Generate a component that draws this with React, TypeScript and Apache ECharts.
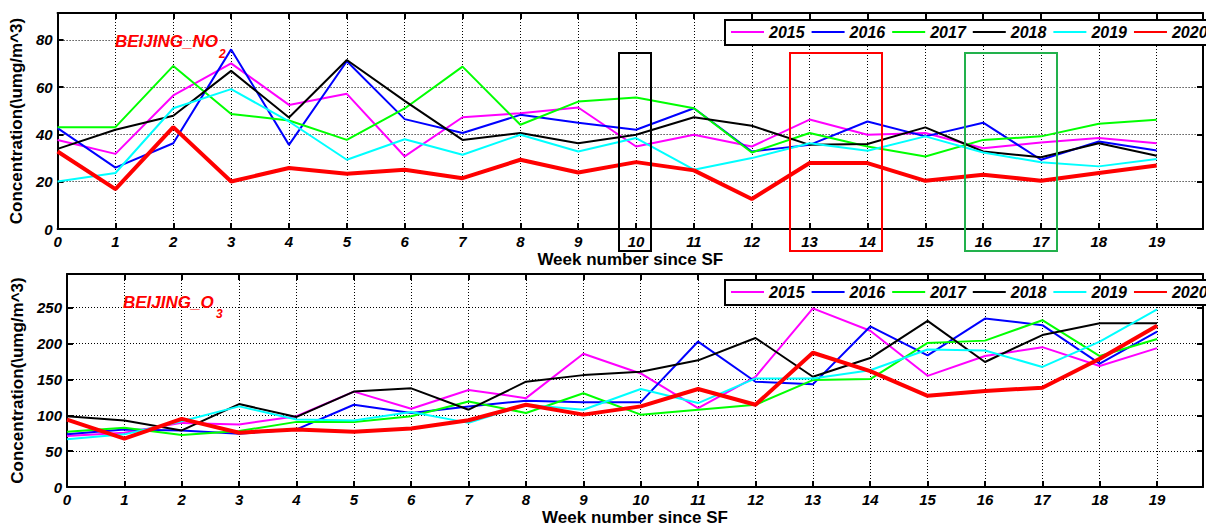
import React, { useEffect, useRef } from "react";
import * as echarts from "echarts";

const weeks = [0, 1, 2, 3, 4, 5, 6, 7, 8, 9, 10, 11, 12, 13, 14, 15, 16, 17, 18, 19];
const years = ["2015", "2016", "2017", "2018", "2019", "2020"];
const colors = ["#ff00ff", "#0000ff", "#00ff00", "#000000", "#00ffff", "#ff0000"];

const no2_2015 = [37.7, 31.8, 56.5, 70.1, 52.5, 57.2, 30.7, 47.3, 49.0, 51.4, 34.9, 39.9, 34.9, 46.3, 39.9, 40.6, 34.2, 36.6, 38.5, 36.3];
const no2_2016 = [42.7, 26.0, 36.3, 76.0, 35.6, 71.0, 46.5, 40.6, 48.3, 45.0, 42.0, 51.1, 32.8, 35.6, 45.5, 39.2, 45.0, 29.3, 37.0, 33.2];
const no2_2017 = [43.1, 43.1, 69.0, 48.7, 45.9, 37.7, 51.0, 68.7, 44.1, 53.9, 55.6, 51.1, 32.4, 40.6, 34.9, 30.7, 37.7, 39.2, 44.5, 46.2];
const no2_2018 = [33.9, 42.0, 47.9, 66.9, 47.2, 71.5, 54.2, 37.7, 40.6, 36.3, 39.9, 47.3, 43.7, 35.6, 36.0, 43.0, 32.8, 30.4, 36.3, 31.0];
const no2_2019 = [20.1, 23.7, 51.1, 59.2, 45.5, 29.3, 38.0, 31.4, 39.9, 32.8, 38.5, 25.1, 30.0, 36.3, 33.1, 39.2, 32.4, 28.2, 26.5, 29.6];
const no2_2020 = [32.8, 16.9, 43.1, 20.1, 25.8, 23.4, 25.1, 21.5, 29.3, 23.9, 28.3, 24.8, 12.7, 27.9, 27.9, 20.4, 23.0, 20.4, 23.7, 26.9];

const o3_2015 = [71.1, 75.7, 89.4, 87.2, 98.6, 133.0, 109.2, 135.3, 123.9, 185.8, 158.3, 110.0, 153.7, 249.0, 217.9, 155.0, 182.6, 195.0, 168.8, 193.6];
const o3_2016 = [73.4, 80.3, 78.9, 74.3, 80.3, 114.7, 103.2, 112.4, 120.2, 118.3, 118.3, 202.8, 146.8, 143.1, 223.9, 183.5, 234.9, 225.7, 172.0, 216.5];
const o3_2017 = [77.1, 82.6, 72.5, 78.0, 90.8, 90.8, 98.6, 119.3, 103.2, 130.7, 100.9, 107.8, 114.7, 149.1, 150.5, 200.9, 204.1, 232.6, 182.6, 206.4];
const o3_2018 = [98.6, 92.7, 78.9, 115.6, 97.7, 133.0, 137.6, 107.8, 146.8, 156.0, 160.6, 176.6, 207.8, 153.7, 179.8, 231.7, 174.3, 211.9, 228.4, 228.4];
const o3_2019 = [66.5, 73.4, 91.7, 112.4, 94.0, 92.7, 104.6, 89.4, 114.7, 107.8, 136.7, 117.0, 151.4, 151.4, 162.8, 191.7, 190.4, 167.4, 202.8, 247.7];
const o3_2020 = [94.0, 67.4, 95.0, 75.7, 80.3, 77.1, 81.5, 93.1, 114.7, 100.9, 112.4, 136.7, 114.7, 187.2, 161.5, 127.1, 133.9, 138.5, 178.9, 224.8];

const no2Series = [no2_2015, no2_2016, no2_2017, no2_2018, no2_2019, no2_2020];
const o3Series = [o3_2015, o3_2016, o3_2017, o3_2018, o3_2019, o3_2020];

const xAxisTitle = "Week number since SF";
const yAxisTitle = "Concentration(\\umg/m^3)";

const FONT = "'Liberation Sans', Arial, sans-serif";

export default function App() {
  const ref = useRef<HTMLDivElement>(null);
  useEffect(() => {
    document.body.style.margin = "0";
    const chart = echarts.init(ref.current!, null, { renderer: "svg" });

    const frameLine = { show: true, onZero: false, lineStyle: { color: "#000", width: 2 } };
    const tickIn = { show: true, inside: true, length: 6, lineStyle: { color: "#000", width: 2 } };
    const grid = { show: true, lineStyle: { color: "#000", width: 1, type: [1, 2] as any } };
    const labelStyle = { fontFamily: FONT, fontWeight: "bold" as const, fontStyle: "italic" as const, fontSize: 15, color: "#000" };

    const mkX = (gridIndex: number, top: boolean) => ({
      type: "value",
      gridIndex,
      position: top ? "top" : "bottom",
      min: 0,
      max: 19.8,
      interval: 1,
      axisLine: frameLine,
      axisTick: tickIn,
      splitLine: top ? { show: false } : grid,
      axisLabel: top
        ? { show: false }
        : { ...labelStyle, margin: 5, showMaxLabel: false, formatter: (v: number) => (Number.isInteger(v) ? String(v) : "") },
      name: top ? "" : xAxisTitle,
      nameLocation: "middle",
      nameGap: 22,
      nameTextStyle: { fontFamily: FONT, fontWeight: "bold", fontSize: 17, color: "#000" },
    });
    const mkY = (gridIndex: number, right: boolean, max: number, interval: number, nameGap: number) => ({
      type: "value",
      gridIndex,
      position: right ? "right" : "left",
      min: 0,
      max,
      interval,
      axisLine: frameLine,
      axisTick: tickIn,
      splitLine: right ? { show: false } : grid,
      axisLabel: right
        ? { show: false }
        : { ...labelStyle, margin: 5, showMaxLabel: false, formatter: (v: number) => (v % interval === 0 ? String(v) : "") },
      name: right ? "" : yAxisTitle,
      nameLocation: "middle",
      nameGap,
      nameTextStyle: { fontFamily: FONT, fontWeight: "bold", fontSize: 17, color: "#000" },
    });

    const mkSeries = (data: number[][], xi: number, yi: number) =>
      data.map((vals, i) => ({
        type: "line",
        name: years[i],
        xAxisIndex: xi,
        yAxisIndex: yi,
        symbol: "none",
        showSymbol: false,
        data: weeks.map((w, k) => [w, vals[k]]),
        lineStyle: { color: colors[i], width: i === 5 ? 4 : 2 },
        itemStyle: { color: colors[i] },
        z: 3 + i,
      }));

    const legendCommon = {
      data: years,
      orient: "horizontal",
      left: 725,
      width: 520,
      itemWidth: 33,
      itemHeight: 16,
      itemGap: 6,
      padding: [4, 5, 5, 5],
      backgroundColor: "#fff",
      borderColor: "#000",
      borderWidth: 2,
      borderRadius: 0,
      selectedMode: false,
      itemStyle: { opacity: 0 },
      textStyle: { fontFamily: FONT, fontWeight: "bold", fontStyle: "italic", fontSize: 16, color: "#000" },
      z: 20,
    };

    const titleText = (x: number, y: number, main: string, sub: string, subX: number, subY: number) => [
      {
        type: "text",
        left: x,
        top: y,
        z: 30,
        style: { text: main, fill: "#ff0000", font: `italic bold 17px ${FONT}` },
      },
      {
        type: "text",
        left: subX,
        top: subY,
        z: 30,
        style: { text: sub, fill: "#ff0000", font: `italic bold 12px ${FONT}` },
      },
    ];

    const box = (x: number, w: number, color: string) => ({
      type: "rect",
      shape: { x, y: 53, width: w, height: 198 },
      style: { fill: "none", stroke: color, lineWidth: 2 },
      z: 40,
    });

    chart.setOption({
      animation: false,
      backgroundColor: "#fff",
      grid: [
        { left: 57, top: 13, right: 3, height: 216, containLabel: false },
        { left: 67, top: 274, right: 3, height: 216, containLabel: false },
      ],
      xAxis: [mkX(0, false), mkX(0, true), mkX(1, false), mkX(1, true)],
      yAxis: [mkY(0, false, 91.4, 20, 23), mkY(0, true, 91.4, 20, 0), mkY(1, false, 297, 50, 32), mkY(1, true, 297, 50, 0)],
      legend: [
        { ...legendCommon, top: 20 },
        { ...legendCommon, top: 280 },
      ],
      series: [...mkSeries(no2Series, 0, 0), ...mkSeries(o3Series, 2, 2)],
      graphic: [
        ...titleText(115, 33, "BEIJING_NO", "2", 219, 48),
        ...titleText(123, 294, "BEIJING_O", "3", 216, 308),
        box(619, 32, "#000000"),
        box(790, 92, "#ff0000"),
        box(965, 92, "#22b14c"),
      ],
    });
    return () => chart.dispose();
  }, []);
  return <div ref={ref} style={{ width: 1206, height: 527 }} />;
}
